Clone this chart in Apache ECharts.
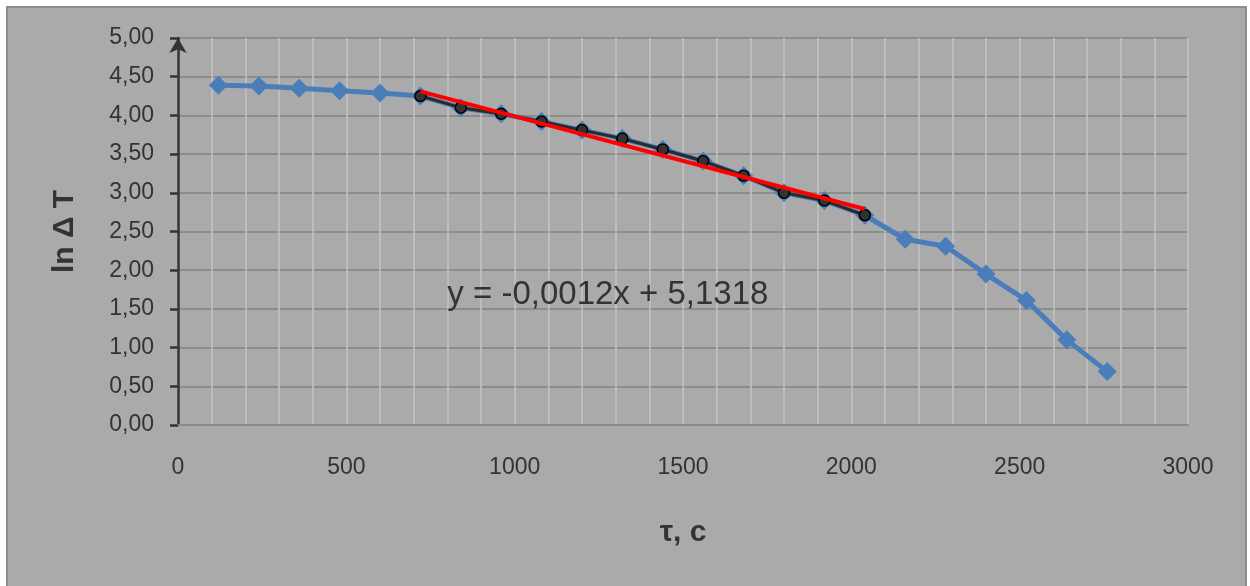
<!DOCTYPE html>
<html>
<head>
<meta charset="utf-8">
<script src="https://cdn.jsdelivr.net/npm/echarts@6/dist/echarts.min.js"></script>
<style>
html,body{margin:0;padding:0;background:#ffffff;}
#chart{width:1250px;height:586px;}
</style>
</head>
<body>
<div id="chart"></div>
<script>
// Data
var timeSec = [120, 240, 360, 480, 600, 720, 840, 960, 1080, 1200, 1320, 1440, 1560, 1680, 1800, 1920, 2040, 2160, 2280, 2400, 2520, 2640, 2760];
var lnDeltaT = [4.39, 4.38, 4.35, 4.32, 4.29, 4.25, 4.10, 4.02, 3.92, 3.81, 3.70, 3.56, 3.41, 3.22, 3.00, 2.90, 2.71, 2.40, 2.31, 1.95, 1.61, 1.10, 0.69];
var fitTime = [720, 840, 960, 1080, 1200, 1320, 1440, 1560, 1680, 1800, 1920, 2040];
var fitLnDeltaT = [4.25, 4.10, 4.02, 3.92, 3.81, 3.70, 3.56, 3.41, 3.22, 3.00, 2.90, 2.71];
var trendTime = [720, 2040];
var trendLnDeltaT = [4.31, 2.79];
var equationText = 'y = -0,0012x + 5,1318';
var yAxisTitle = 'ln Δ T';
var xAxisTitle = 'τ, c';

function pairs(xs, ys) { return xs.map(function (x, i) { return [x, ys[i]]; }); }

var FONT = 'Liberation Sans';
var chart = echarts.init(document.getElementById('chart'), null, { renderer: 'canvas' });
chart.setOption({
  animation: false,
  backgroundColor: '#ffffff',
  textStyle: { fontFamily: FONT },
  grid: { left: 178, right: 62, top: 38, bottom: 161, containLabel: false, outerBoundsMode: 'none' },
  xAxis: {
    type: 'value', min: 0, max: 3000, interval: 500,
    axisLine: { show: true, lineStyle: { color: '#8a8a8a', width: 2 } },
    axisTick: { show: false },
    axisLabel: { color: '#333333', fontSize: 23, margin: 31, fontFamily: FONT,
      formatter: function (v) { return String(v); } },
    splitLine: { show: true, lineStyle: { color: '#c3c3c3', width: 1.5 } },
    minorTick: { show: false, splitNumber: 5 },
    minorSplitLine: { show: true, lineStyle: { color: '#c3c3c3', width: 1.5 } },
    name: xAxisTitle, nameLocation: 'middle', nameGap: 93,
    nameTextStyle: { fontSize: 30, fontWeight: 'bold', color: '#333333', fontFamily: FONT }
  },
  yAxis: {
    type: 'value', min: 0, max: 5, interval: 0.5,
    axisLine: { show: true, symbol: ['none', 'arrow'], symbolSize: [13, 15], symbolOffset: [0, 0],
      lineStyle: { color: '#333333', width: 2.5 } },
    axisTick: { show: true, inside: false, length: 8, lineStyle: { color: '#333333', width: 2.5 } },
    axisLabel: { color: '#333333', fontSize: 23, margin: 24, fontFamily: FONT,
      formatter: function (v) { return v.toFixed(2).replace('.', ','); } },
    splitLine: { show: true, lineStyle: { color: '#8c8c8c', width: 2 } },
    name: yAxisTitle, nameLocation: 'middle', nameRotate: 90, nameGap: 98,
    nameTextStyle: { fontSize: 30, fontWeight: 'bold', color: '#333333', fontFamily: FONT }
  },
  series: [
    {
      type: 'line', data: pairs(timeSec, lnDeltaT), z: 2,
      symbol: 'diamond', symbolSize: 19, showSymbol: true,
      lineStyle: { color: '#4a7ebb', width: 5 },
      itemStyle: { color: '#4a7ebb', borderWidth: 0 }
    },
    {
      type: 'line', data: pairs(fitTime, fitLnDeltaT), z: 3,
      symbol: 'circle', symbolSize: 11,
      lineStyle: { color: '#2a2a2a', width: 3 },
      itemStyle: { color: '#333333', borderColor: '#000000', borderWidth: 1.5 }
    },
    {
      type: 'line', data: pairs(trendTime, trendLnDeltaT), z: 4,
      symbol: 'none',
      lineStyle: { color: '#ff0000', width: 4 }
    }
  ]
});
var eqPos = chart.convertToPixel({ gridIndex: 0 }, [800, 1.68]);
chart.setOption({
  graphic: [
    { type: 'rect', z: -10, shape: { x: 7, y: 7, width: 1239, height: 600 },
      style: { fill: '#aaaaaa', stroke: '#8e8e8e', lineWidth: 2 } },
    { type: 'text', z: 10, x: eqPos[0], y: eqPos[1],
      style: { text: equationText, fill: '#333333', fontSize: 33, fontFamily: FONT,
        textAlign: 'left', textVerticalAlign: 'middle' } }
  ]
});
</script>
</body>
</html>
